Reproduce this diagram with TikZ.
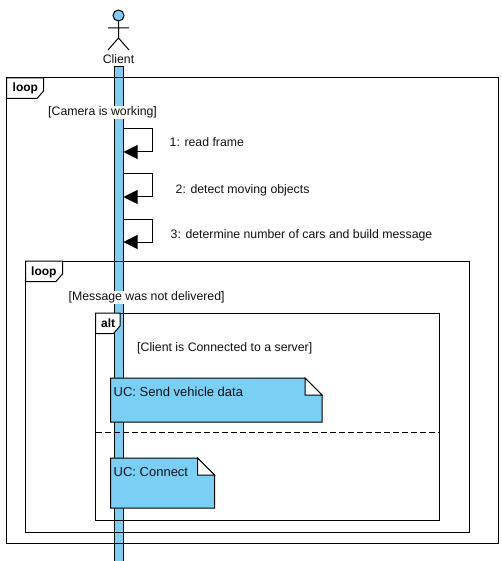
\documentclass[tikz,border=0pt]{standalone}
\usepackage{fontspec}
\setmainfont{Liberation Sans}
\usetikzlibrary{arrows.meta}
\definecolor{uml}{HTML}{7ACFF5}
\definecolor{ink}{HTML}{111111}
\tikzset{
  x=1pt,y=-1pt,
  line/.style={draw=black,line width=1pt},
  box/.style={line,anchor=north west,inner sep=0pt,outer sep=0pt},
  ghost/.style={anchor=north west,inner sep=0pt,outer sep=0pt},
  lbl/.style={font=\fontsize{12.3}{14}\selectfont,text=ink,inner sep=1pt,anchor=base west},
  notelbl/.style={lbl,font=\fontsize{13}{15}\selectfont},
  guard/.style={lbl,fill=white},
  tag/.style={font=\bfseries\fontsize{12}{14}\selectfont,anchor=base west,inner sep=0pt},
  msg/.style={line,-{Triangle[length=14pt,width=14pt,fill=black]}},
  tagshape/.style={line,fill=white},
  notebody/.style={line,fill=uml},
  foldshape/.style={line,fill=white},
}
\newcommand{\frameat}[6]{% name, x, y, w, h, (tag width)
  \node[box,minimum width=#4pt,minimum height=#5pt] (#1) at (#2,#3) {};
  \draw[tagshape] (#1.north west) -- ++(#6,0) -- ++(0,13) -- ++(-6.5,7.5) -- ++(-#6+6.5,0) -- cycle;
}
\newcommand{\noteat}[5]{% name, x, y, w, h
  \node[ghost,minimum width=#4pt,minimum height=#5pt] (#1) at (#2,#3) {};
  \draw[notebody] (#1.north west) -- ++(#4-17,0) -- ++(17,17) -- (#1.south east) -- (#1.south west) -- cycle;
  \draw[foldshape] (#1.north east) ++(-17,0) -- ++(17,17) -- ++(-17,0) -- cycle;
}
\begin{document}
\begin{tikzpicture}
\useasboundingbox (0,0) rectangle (502,561);
% lifeline
\node[box,fill=uml,minimum width=9pt,minimum height=500pt] (bar) at (114.5,66.5) {};
% actor
\node[line,circle,fill=uml,minimum size=11pt,inner sep=0pt] (head) at (118.5,15.5) {};
\coordinate (hip) at (118.5,38);
\coordinate (armL) at (108,28);
\coordinate (armR) at (129,28);
\coordinate (legL) at (108,50);
\coordinate (legR) at (129,50);
\draw[line] (head) -- (hip) -- (legL) (hip) -- (legR) (armL) -- (armR);
\node[lbl,anchor=base] (client) at (118.5,63.5) {Client};
% frames
\frameat{outer}{6.5}{78}{491.5}{465.5}{37}
\node[tag] (outertag) at (12.5,92) {loop};
\node[guard] (g1) at (47,115.5) {[Camera is working]};
\frameat{inner}{25.5}{261}{443.5}{271}{37}
\node[tag] (innertag) at (31,275) {loop};
\node[guard] (g2) at (67.5,300.5) {[Message was not delivered]};
\frameat{alt}{95.5}{313}{344}{207}{24.5}
\node[tag] (alttag) at (101,327) {alt};
\node[lbl] (g3) at (136,351.5) {[Client is Connected to a server]};
% self messages
\foreach \n/\a/\b in {1/129/152,2/174/197,3/219/242}{
  \coordinate (s\n) at (123.5,\a);
  \coordinate (t\n) at (152.5,\a);
  \coordinate (u\n) at (152.5,\b);
  \coordinate (e\n) at (123.5,\b);
  \draw[msg] (s\n) -- (t\n) -- (u\n) -- (e\n);
}
\node[lbl] (m1) at (168.5,146.5) {1: read frame};
\node[lbl] (m2) at (174.5,193.5) {2: detect moving objects};
\node[lbl] (m3) at (169.5,238.5) {3: determine number of cars and build message};
% separator
\coordinate (dl) at (95.5,432);
\coordinate (dr) at (439.5,432);
\draw[line,dash pattern=on 6pt off 3pt] (dl) -- (dr);
% notes
\noteat{n1}{110.5}{378}{211.5}{44}
\node[notelbl] (n1t) at (112.5,396) {UC: Send vehicle data};
\noteat{n2}{110.5}{458}{104}{50}
\node[notelbl] (n2t) at (112.5,476) {UC: Connect};
\end{tikzpicture}
\end{document}
